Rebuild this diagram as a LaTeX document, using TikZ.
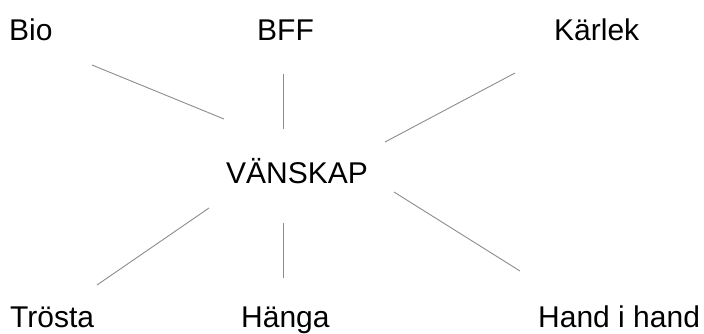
\documentclass[tikz,border=0pt]{standalone}
\usepackage{fontspec}
\setmainfont{Liberation Sans}
\begin{document}
\begin{tikzpicture}[x=1pt,y=-1pt,
  lbl/.style={anchor=base west,inner sep=0pt,font=\fontsize{30}{32}\selectfont},
  conn/.style={draw=black!45,line width=0.9pt}]
\useasboundingbox (0,0) rectangle (704,333);
\node[lbl] (bio) at (9,40) {Bio};
\node[lbl] (bff) at (257,40) {BFF};
\node[lbl] (karlek) at (554,40) {Kärlek};
\node[lbl] (van) at (226,183) {VÄNSKAP};
\node[lbl] (trosta) at (10,327) {Trösta};
\node[lbl] (hanga) at (241,327) {Hänga};
\node[lbl] (hand) at (538,327) {Hand i hand};
\coordinate (a1) at (92,65);  \coordinate (a2) at (224,119);
\coordinate (b1) at (283,74); \coordinate (b2) at (283,129);
\coordinate (k1) at (515,73); \coordinate (k2) at (385,142);
\coordinate (t1) at (97,285); \coordinate (t2) at (209,208);
\coordinate (h1) at (283,278); \coordinate (h2) at (283,223);
\coordinate (d1) at (520,271); \coordinate (d2) at (394,192);
\draw[conn] (a1) -- (a2);
\draw[conn] (b1) -- (b2);
\draw[conn] (k1) -- (k2);
\draw[conn] (t1) -- (t2);
\draw[conn] (h1) -- (h2);
\draw[conn] (d1) -- (d2);
\end{tikzpicture}
\end{document}
